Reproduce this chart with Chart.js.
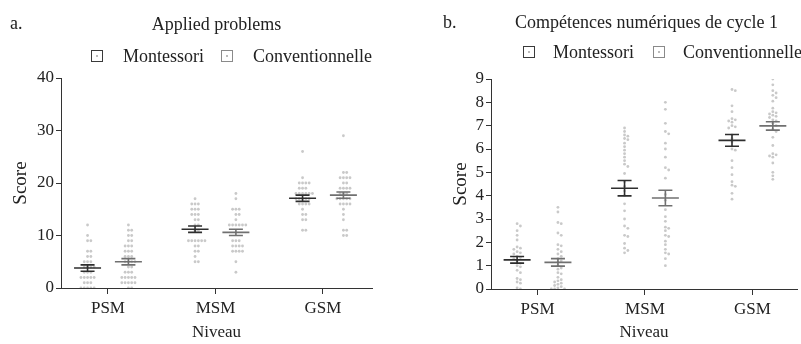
<!DOCTYPE html>
<html>
<head>
<meta charset="utf-8">
<script src="https://cdn.jsdelivr.net/npm/chart.js@4.4.1/dist/chart.umd.min.js"></script>
<style>
body{margin:0;background:#fff;width:801px;height:344px;overflow:hidden;position:relative;font-family:"Liberation Serif","Times New Roman",serif;color:#222}
canvas{position:absolute;top:0}
.txt{position:absolute;white-space:nowrap;font-size:18px;line-height:20px}
.box{position:absolute;width:10px;height:10px;border:1px solid #444;background:#fff}
.box::after{content:"";position:absolute;left:4px;top:4px;width:2px;height:2px;background:#bbb}
</style>
</head>
<body>
<canvas id="chartA" width="400" height="344" style="left:0"></canvas>
<canvas id="chartB" width="401" height="344" style="left:400px"></canvas>
<div class="txt" style="left:10px;top:13px">a.</div>
<div class="txt" style="left:443px;top:12px">b.</div>
<div class="txt" id="titleA" style="left:61px;width:311px;text-align:center;top:14px"></div>
<div class="txt" id="titleB" style="left:492px;width:309px;text-align:center;top:12px"></div>
<div id="legA"></div>
<div id="legB"></div>

<script>
// categories and groups
const niveaux = ["PSM", "MSM", "GSM"];
const groupes = ["Montessori", "Conventionnelle"];

// a. Applied problems - individual scores (integers)
const apMontPSM = [12, 10, 9, 9, 7, 7, 6, 6, 5, 5, 5, 4, 4, 4, 4, 3, 3, 3, 2, 2, 2, 2, 2, 1, 1, 1, 0, 0, 0, 0, 0];
const apConvPSM = [12, 11, 11, 10, 10, 9, 9, 8, 8, 8, 7, 7, 7, 6, 6, 6, 5, 5, 5, 5, 4, 4, 3, 3, 3, 2, 2, 2, 2, 2, 1, 1, 1, 1, 1, 0, 0];
const apMontMSM = [17, 16, 16, 16, 15, 15, 15, 14, 14, 14, 13, 13, 12, 12, 11, 11, 9, 9, 9, 9, 9, 9, 8, 8, 7, 7, 6, 5, 5];
const apConvMSM = [18, 17, 15, 15, 15, 14, 14, 13, 12, 12, 12, 12, 12, 12, 9, 9, 9, 8, 8, 8, 8, 7, 7, 7, 7, 5, 3];
const apMontGSM = [26, 21, 20, 20, 20, 20, 19, 19, 19, 18, 18, 18, 18, 18, 18, 17, 17, 17, 17, 17, 16, 16, 16, 16, 15, 14, 14, 13, 13, 11, 11];
const apConvGSM = [29, 22, 22, 21, 21, 21, 21, 20, 20, 19, 19, 19, 19, 18, 18, 18, 17, 17, 17, 17, 17, 16, 16, 16, 16, 15, 14, 13, 11, 11, 10, 10];
const apMeanMont = [3.8, 11.2, 17.1];
const apSemMont = [0.6, 0.6, 0.6];
const apMeanConv = [5.0, 10.6, 17.7];
const apSemConv = [0.6, 0.6, 0.6];

// b. Compétences numériques de cycle 1 - individual scores
const cnMontPSM = [2.8, 2.7, 2.5, 2.3, 2.1, 1.8, 1.75, 1.7, 1.6, 1.55, 1.5, 1.4, 1.35, 1.3, 1.2, 1.1, 1.0, 0.95, 0.8, 0.7, 0.45, 0.4, 0.3, 0.25, 0.05, 0];
const cnConvPSM = [3.5, 3.3, 2.85, 2.8, 2.4, 2.3, 1.9, 1.85, 1.7, 1.6, 1.5, 1.4, 1.3, 1.2, 1.15, 1.0, 0.9, 0.85, 0.7, 0.65, 0.5, 0.4, 0.35, 0.3, 0.25, 0.2, 0.15, 0.1, 0.05, 0, 0, 0];
const cnMontMSM = [6.9, 6.75, 6.6, 6.55, 6.45, 6.4, 6.25, 6.1, 5.95, 5.8, 5.65, 5.5, 5.35, 5.25, 4.95, 4.6, 4.4, 4.2, 4.0, 3.65, 3.35, 3.0, 2.7, 2.6, 2.3, 2.25, 1.95, 1.75, 1.65, 1.55];
const cnConvMSM = [8.0, 7.7, 7.1, 6.75, 6.65, 6.25, 6.0, 5.65, 5.2, 5.1, 4.75, 4.05, 3.8, 3.4, 3.1, 2.9, 2.65, 2.6, 2.5, 2.3, 2.25, 2.05, 1.9, 1.7, 1.55, 1.5, 1.3, 1.0];
const cnMontGSM = [8.55, 8.5, 7.85, 7.6, 7.3, 7.25, 7.2, 7.15, 7.0, 6.95, 6.9, 6.6, 6.45, 6.3, 6.0, 5.95, 5.5, 5.2, 4.9, 4.6, 4.45, 4.4, 4.1, 3.85];
const cnConvGSM = [9.0, 8.75, 8.5, 8.4, 8.3, 8.2, 8.05, 7.75, 7.6, 7.55, 7.5, 7.45, 7.4, 7.35, 7.25, 7.2, 7.1, 7.0, 6.85, 6.75, 6.5, 6.15, 5.8, 5.75, 5.7, 5.65, 5.4, 5.0, 4.85, 4.7];
const cnMeanMont = [1.25, 4.32, 6.37];
const cnSemMont = [0.14, 0.33, 0.25];
const cnMeanConv = [1.14, 3.9, 6.99];
const cnSemConv = [0.16, 0.33, 0.18];

Chart.defaults.font.family = '"Liberation Serif", "Times New Roman", serif';
Chart.defaults.color = "#222";

const offMont = -0.19, offConv = 0.19;
const dotColor = "#c9c9c9";
const lineColors = ["#2e2e2e", "#707070"];

// points of one series, all 3 levels
function points(lists, off) {
  let pts = [];
  lists.forEach((vals, i) => {
    vals.forEach(v => pts.push({x: i + 1 + off, y: v, base: i + 1 + off}));
  });
  return pts;
}

// draws mean line + SEM bars from the arrays, through the scales
const meanBars = {
  id: "meanBars",
  afterDatasetsDraw(chart, args, opts) {
    const {ctx} = chart;
    const xs = chart.scales.x, ys = chart.scales.y;
    opts.groups.forEach(g => {
      g.mean.forEach((m, i) => {
        const cx = xs.getPixelForValue(i + 1 + g.off);
        const ym = ys.getPixelForValue(m);
        const y1 = ys.getPixelForValue(m + g.sem[i]);
        const y2 = ys.getPixelForValue(m - g.sem[i]);
        ctx.save();
        ctx.strokeStyle = g.color;
        ctx.lineWidth = 1.6;
        ctx.beginPath();
        ctx.moveTo(cx - 13.5, ym); ctx.lineTo(cx + 13.5, ym);
        ctx.moveTo(cx - 7, y1); ctx.lineTo(cx + 7, y1);
        ctx.moveTo(cx - 7, y2); ctx.lineTo(cx + 7, y2);
        ctx.moveTo(cx, y1); ctx.lineTo(cx, y2);
        ctx.stroke();
        ctx.restore();
      });
    });
  }
};

// spread the dots sideways so they don't overlap (simple beeswarm)
function swarm(chart) {
  const xs = chart.scales.x, ys = chart.scales.y;
  const pxPerUnit = xs.getPixelForValue(2) - xs.getPixelForValue(1);
  const gap = 3.3;
  chart.data.datasets.forEach(ds => {
    const placed = {};
    ds.data.forEach(p => {
      const list = placed[p.base] || (placed[p.base] = []);
      const py = ys.getPixelForValue(p.y);
      let k = 0, dx = 0;
      while (true) {
        dx = (k % 2 ? 1 : -1) * Math.ceil(k / 2) * gap;
        if (!list.some(q => Math.hypot(q.dx - dx, q.py - py) < gap - 0.01)) break;
        k++;
      }
      list.push({dx, py});
      p.x = p.base + dx / pxPerUnit;
    });
  });
  chart.update("none");
}

function makeChart(id, cfg) {
  const chart = new Chart(document.getElementById(id), {
    type: "scatter",
    data: {
      datasets: [
        {label: groupes[0], data: points(cfg.mont, offMont), pointRadius: 1.4, pointBorderWidth: 0, pointBackgroundColor: dotColor},
        {label: groupes[1], data: points(cfg.conv, offConv), pointRadius: 1.4, pointBorderWidth: 0, pointBackgroundColor: dotColor}
      ]
    },
    options: {
      responsive: false,
      animation: false,
      layout: {padding: cfg.padding},
      plugins: {
        legend: {display: false},
        tooltip: {enabled: false},
        meanBars: {groups: [
          {mean: cfg.meanMont, sem: cfg.semMont, off: offMont, color: lineColors[0]},
          {mean: cfg.meanConv, sem: cfg.semConv, off: offConv, color: lineColors[1]}
        ]}
      },
      scales: {
        x: {
          type: "linear",
          min: cfg.xmin, max: cfg.xmax,
          afterBuildTicks: s => { s.ticks = niveaux.map((n, i) => ({value: i + 1})); },
          afterFit: s => { s.height = cfg.xHeight; },
          ticks: {font: {size: 17}, padding: 4, autoSkip: false, callback: v => niveaux[v - 1]},
          grid: {drawOnChartArea: false, tickLength: 6, color: "#333"},
          border: {color: "#333", width: 1},
          title: {display: true, text: "Niveau", font: {size: 17}, padding: {bottom: 1}}
        },
        y: {
          min: 0, max: cfg.ymax,
          afterFit: s => { s.width = cfg.yWidth; },
          ticks: {stepSize: cfg.step, font: {size: 17}, padding: 2, autoSkip: false},
          grid: {drawOnChartArea: false, tickLength: 5, color: "#333"},
          border: {color: "#333", width: 1},
          title: {display: true, text: "Score", font: {size: 19}, padding: {top: cfg.yTitlePad}}
        }
      }
    },
    plugins: [meanBars]
  });
  swarm(chart);
  return chart;
}

makeChart("chartA", {
  mont: [apMontPSM, apMontMSM, apMontGSM],
  conv: [apConvPSM, apConvMSM, apConvGSM],
  meanMont: apMeanMont, semMont: apSemMont, meanConv: apMeanConv, semConv: apSemConv,
  xmin: 0.563, xmax: 3.456, ymax: 40, step: 10,
  padding: {left: 0, right: 28, top: 78, bottom: 0},
  xHeight: 56, yWidth: 61, yTitlePad: 10
});

makeChart("chartB", {
  mont: [cnMontPSM, cnMontMSM, cnMontGSM],
  conv: [cnConvPSM, cnConvMSM, cnConvGSM],
  meanMont: cnMeanMont, semMont: cnSemMont, meanConv: cnMeanConv, semConv: cnSemConv,
  xmin: 0.567, xmax: 3.415, ymax: 9, step: 1,
  padding: {left: 0, right: 0, top: 79, bottom: 0},
  xHeight: 55, yWidth: 91, yTitlePad: 50
});

// titles and legends
document.getElementById("titleA").textContent = "Applied problems";
document.getElementById("titleB").textContent = "Compétences numériques de cycle 1";

function legend(id, x0, yc, textGap, itemGap) {
  const el = document.getElementById(id);
  let x = x0;
  groupes.forEach((g, i) => {
    const b = document.createElement("div");
    b.className = "box";
    b.style.left = x + "px";
    b.style.top = (yc - 6) + "px";
    b.style.borderColor = i ? "#8a8a8a" : "#3a3a3a";
    el.appendChild(b);
    const t = document.createElement("div");
    t.className = "txt";
    t.textContent = g;
    t.style.left = (x + 12 + textGap) + "px";
    t.style.top = (yc - 10) + "px";
    el.appendChild(t);
    x = x + 12 + textGap + t.getBoundingClientRect().width + itemGap;
  });
}
legend("legA", 91, 56, 20, 17);
legend("legB", 523, 52, 18, 19);
</script>
</body>
</html>
